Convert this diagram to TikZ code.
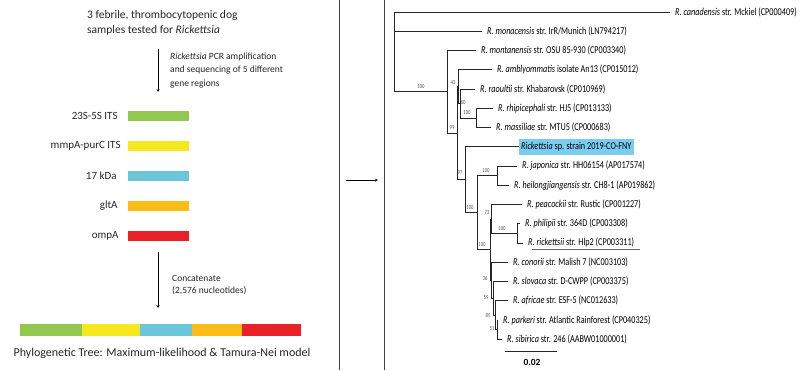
\documentclass[tikz,border=0pt]{standalone}
\usepackage{fontspec}
\setmainfont{Carlito}
\newfontfamily\treefont[FakeStretch=0.78]{Carlito}
\definecolor{genegreen}{RGB}{146,200,80}
\definecolor{geneyellow}{RGB}{246,232,30}
\definecolor{genecyan}{RGB}{108,198,218}
\definecolor{geneorange}{RGB}{252,188,22}
\definecolor{genered}{RGB}{232,32,40}
\definecolor{hilite}{RGB}{122,204,240}
\tikzset{
  note/.style={anchor=west, align=left, inner sep=0pt, text=black!85},
  gene/.style={minimum width=61pt, minimum height=10pt, inner sep=0pt},
  genename/.style={anchor=east, inner sep=0pt, text=black!85, font=\fontsize{11}{13}\selectfont},
  branch/.style={draw=black!85, line width=0.8pt},
  leaf/.style={anchor=west, inner xsep=5pt, inner ysep=0pt, font=\treefont\fontsize{10.5}{10.5}\selectfont},
  boot/.style={inner sep=0pt, text=black!70, font=\treefont\fontsize{6}{6}\selectfont}
}
\begin{document}
\begin{tikzpicture}[>=stealth,x=1pt,y=-1pt]
\useasboundingbox (0,0) rectangle (800,370);
% left panel: samples, genes, concatenation
\node[note, font=\fontsize{11.5}{15}\selectfont] (samples) at (87,22.5) {3 febrile, thrombocytopenic dog\\samples tested for \textit{Rickettsia}};
\coordinate (pcrtop) at (158,49);
\coordinate (pcrend) at (158,92);
\draw[->] (pcrtop) -- (pcrend);
\node[note, font=\fontsize{9.5}{13.5}\selectfont] (pcr) at (170,70.5) {\textit{Rickettsia} PCR amplification\\and sequencing of 5 different\\gene regions};
\node[gene, fill=genegreen] (its) at (158.5,116) {};
\node[gene, fill=geneyellow] (mmpa) at (158.5,146) {};
\node[gene, fill=genecyan] (kda) at (158.5,176) {};
\node[gene, fill=geneorange] (glta) at (158.5,206) {};
\node[gene, fill=genered] (ompa) at (158.5,236) {};
\node[genename] at ([xshift=-10pt]its.west) {23S-5S ITS};
\node[genename] at ([xshift=-7pt]mmpa.west) {mmpA-purC ITS};
\node[genename] at ([xshift=-11pt]kda.west) {17 kDa};
\node[genename] at ([xshift=-10pt]glta.west) {gltA};
\node[genename] at ([xshift=-9pt]ompa.west) {ompA};
\coordinate (cattop) at (158,252);
\coordinate (catend) at (158,308);
\draw[->] (cattop) -- (catend);
\node[note, font=\fontsize{9.5}{12}\selectfont] (concat) at (172,285) {Concatenate\\(2,576 nucleotides)};
\fill[genegreen] (20,324) rectangle (82,336);
\fill[geneyellow] (82,324) rectangle (140,336);
\fill[genecyan] (140,324) rectangle (192,336);
\fill[geneorange] (192,324) rectangle (242,336);
\fill[genered] (242,324) rectangle (301,336);
\node[inner sep=0pt, text=black!85, font=\fontsize{12}{14}\selectfont] (model) at (162,353) {Phylogenetic Tree: Maximum-likelihood \& Tamura-Nei model};
% dividers and arrow to the tree
\draw[black!75, line width=0.8pt] (339,0) -- (339,370);
\draw[black!75, line width=0.8pt] (384,0) -- (384,370);
\coordinate (gotree) at (346,180);
\coordinate (attree) at (378,180);
\draw[->] (gotree) -- (attree);
% tree: leaves
\node[leaf] (canad) at (670,12) {\textit{R. canadensis} str. Mckiel (CP000409)};
\node[leaf] (monac) at (482,31.25) {\textit{R. monacensis} str. IrR/Munich (LN794217)};
\node[leaf] (montan) at (476,50.5) {\textit{R. montanensis} str. OSU 85-930 (CP003340)};
\node[leaf] (ambly) at (492,69.75) {\textit{R. amblyommatis} isolate An13 (CP015012)};
\node[leaf] (raoul) at (475,89) {\textit{R. raoultii} str. Khabarovsk (CP010969)};
\node[leaf] (rhipi) at (493,108.25) {\textit{R. rhipicephali} str. HJ5 (CP013133)};
\node[leaf] (massi) at (491,127.5) {\textit{R. massiliae} str. MTU5 (CP000683)};
\node[leaf, fill=hilite, inner xsep=2pt, minimum height=16pt] (cofny) at (519,146.75) {\textit{Rickettsia} sp. strain 2019-CO-FNY\hspace{9pt}};
\node[leaf] (japon) at (517,166) {\textit{R. japonica} str. HH06154 (AP017574)};
\node[leaf] (heilo) at (509,185.25) {\textit{R. heilongjiangensis} str. CH8-1 (AP019862)};
\node[leaf] (peaco) at (522,204.5) {\textit{R. peacockii} str. Rustic (CP001227)};
\node[leaf] (phili) at (520,223.75) {\textit{R. philipii} str. 364D (CP003308)};
\node[leaf] (ricke) at (523,243) {\textit{R. rickettsii} str. Hlp2 (CP003311)};
\node[leaf] (conor) at (508,262.25) {\textit{R. conorii} str. Malish 7 (NC003103)};
\node[leaf] (slova) at (508,281.5) {\textit{R. slovaca} str. D-CWPP (CP003375)};
\node[leaf] (afric) at (508,300.75) {\textit{R. africae} str. ESF-5 (NC012633)};
\node[leaf] (parke) at (498,320) {\textit{R. parkeri} str. Atlantic Rainforest (CP040325)};
\node[leaf] (sibir) at (502,339.25) {\textit{R. sibirica} str. 246 (AABW01000001)};
% tree: internal nodes
\coordinate (root) at (394,52);
\coordinate (nA) at (447,91.8);
\coordinate (nB) at (457,133.1);
\coordinate (n43) at (458,86.6);
\coordinate (n80) at (460,103.4);
\coordinate (nRM) at (476,117.9);
\coordinate (n97) at (465,179.7);
\coordinate (nC) at (477,212.6);
\coordinate (nJH) at (497,175.6);
\coordinate (nD) at (490,249.6);
\coordinate (n73) at (491,219);
\coordinate (nPR) at (517,233.4);
\coordinate (nE) at (491,280.3);
\coordinate (nF) at (493,298.3);
\coordinate (nG) at (495,315.2);
\coordinate (nH) at (497,329.6);
% tree: branches
\draw[branch] (root) |- (canad) (root) |- (monac) (root) |- (nA);
\draw[branch] (nA) |- (montan) (nA) |- (nB);
\draw[branch] (nB) |- (n43) (nB) |- (n97);
\draw[branch] (n43) |- (ambly) (n43) |- (n80);
\draw[branch] (n80) |- (raoul) (n80) |- (nRM);
\draw[branch] (nRM) |- (rhipi) (nRM) |- (massi);
\draw[branch] (n97) |- (cofny) (n97) |- (nC);
\draw[branch] (nC) |- (nJH) (nC) |- (nD);
\draw[branch] (nJH) |- (japon) (nJH) |- (heilo);
\draw[branch] (nD) |- (n73) (nD) |- (nE);
\draw[branch] (n73) |- (peaco) (n73) |- (nPR);
\draw[branch] (nPR) |- (phili) (nPR) |- (ricke);
\draw[branch] (nE) |- (conor) (nE) |- (nF);
\draw[branch] (nF) |- (slova) (nF) |- (nG);
\draw[branch] (nG) |- (afric) (nG) |- (nH);
\draw[branch] (nH) |- (parke) (nH) |- (sibir);
% bootstrap values
\node[boot] at (421,87) {100};
\node[boot] at (452,128) {99};
\node[boot] at (453,83) {43};
\node[boot] at (463,102) {80};
\node[boot] at (467,113) {100};
\node[boot] at (460,173) {97};
\node[boot] at (486,171) {100};
\node[boot] at (470,208) {100};
\node[boot] at (482,245) {100};
\node[boot] at (487,213) {73};
\node[boot] at (502,229) {100};
\node[boot] at (485,278) {36};
\node[boot] at (486,298) {59};
\node[boot] at (488,315) {85};
\node[boot] at (492,329) {51};
\draw[black!60, line width=0.6pt] (532,249.5) -- (640,249.5);
% scale bar
\draw[branch] (505,351) -- (557,351);
\node[inner sep=0pt, font=\bfseries\fontsize{9.5}{10}\selectfont] (scale) at (532,362) {0.02};
\end{tikzpicture}
\end{document}
